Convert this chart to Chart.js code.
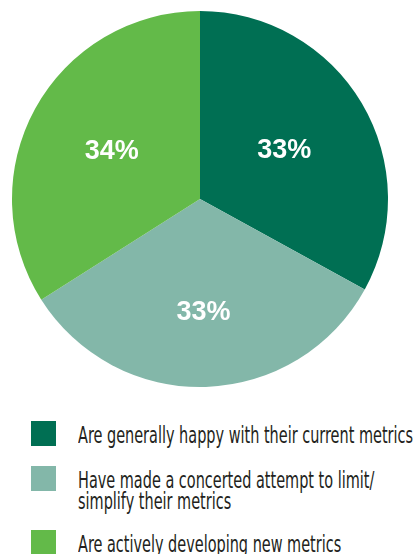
<!DOCTYPE html>
<html>
<head>
<meta charset="utf-8">
<script src="https://cdn.jsdelivr.net/npm/chart.js@4"></script>
<style>
  html, body { margin: 0; padding: 0; background: #fff; }
  body { width: 416px; height: 554px; position: relative; overflow: hidden; }
  #chartBox { position: absolute; left: 0; top: 0; width: 400px; height: 398px; }
  #legend { position: absolute; left: 0; top: 0; width: 416px; }
  .item { position: absolute; left: 31px; }
  .swatch { position: absolute; left: 0; top: 0; width: 25px; height: 25px; }
  .txt {
    position: absolute; left: 47px; top: 4px; white-space: nowrap;
    font-family: "DejaVu Sans Condensed", "DejaVu Sans", sans-serif;
    font-size: 23px; line-height: 21px; color: #231f20;
    transform-origin: 0 0;
  }
</style>
</head>
<body>
<div id="chartBox"><canvas id="pie"></canvas></div>
<div id="legend"></div>
<script>
const categories = [
  "Are generally happy with their current metrics",
  "Have made a concerted attempt to limit/\nsimplify their metrics",
  "Are actively developing new metrics"
];
const shares = [33, 33, 34];
const sliceLabels = ["33%", "33%", "34%"];
const colors = ["#006f53", "#83b7a9", "#63ba49"];

// radial position of each percent label, as a fraction of the radius
const labelFrac = [0.52, 0.6, 0.535];
const legendTops = [421, 466, 530];

const pctLabels = {
  id: "pctLabels",
  afterDatasetsDraw(chart) {
    const ctx = chart.ctx;
    const arcs = chart.getDatasetMeta(0).data;
    ctx.save();
    ctx.fillStyle = "#fff";
    ctx.font = "bold 27px 'Liberation Sans', Arial, sans-serif";
    ctx.textAlign = "center";
    ctx.textBaseline = "middle";
    arcs.forEach((arc, i) => {
      const p = arc.getProps(["x", "y", "startAngle", "endAngle", "outerRadius"], true);
      const mid = (p.startAngle + p.endAngle) / 2;
      const r = p.outerRadius * labelFrac[i];
      ctx.fillText(sliceLabels[i], p.x + Math.cos(mid) * r, p.y + Math.sin(mid) * r + 1);
    });
    ctx.restore();
  }
};

new Chart(document.getElementById("pie"), {
  type: "pie",
  data: {
    labels: categories,
    datasets: [{
      data: shares,
      backgroundColor: colors,
      borderWidth: 0
    }]
  },
  options: {
    responsive: true,
    maintainAspectRatio: false,
    animation: false,
    layout: { padding: { left: 12, right: 12, top: 11, bottom: 11 } },
    plugins: {
      legend: { display: false },
      tooltip: { enabled: false }
    }
  },
  plugins: [pctLabels]
});

// legend, squeezed horizontally to look like the condensed face
const legend = document.getElementById("legend");
const texts = [];
categories.forEach((c, i) => {
  const item = document.createElement("div");
  item.className = "item";
  item.style.top = legendTops[i] + "px";
  const sw = document.createElement("div");
  sw.className = "swatch";
  sw.style.background = colors[i];
  const t = document.createElement("div");
  t.className = "txt";
  t.innerHTML = c.replace("\n", "<br>");
  item.appendChild(sw);
  item.appendChild(t);
  legend.appendChild(item);
  texts.push(t);
});
const squeeze = 335 / texts[0].getBoundingClientRect().width;
texts.forEach(t => { t.style.transform = "scaleX(" + squeeze + ")"; });
</script>
</body>
</html>
